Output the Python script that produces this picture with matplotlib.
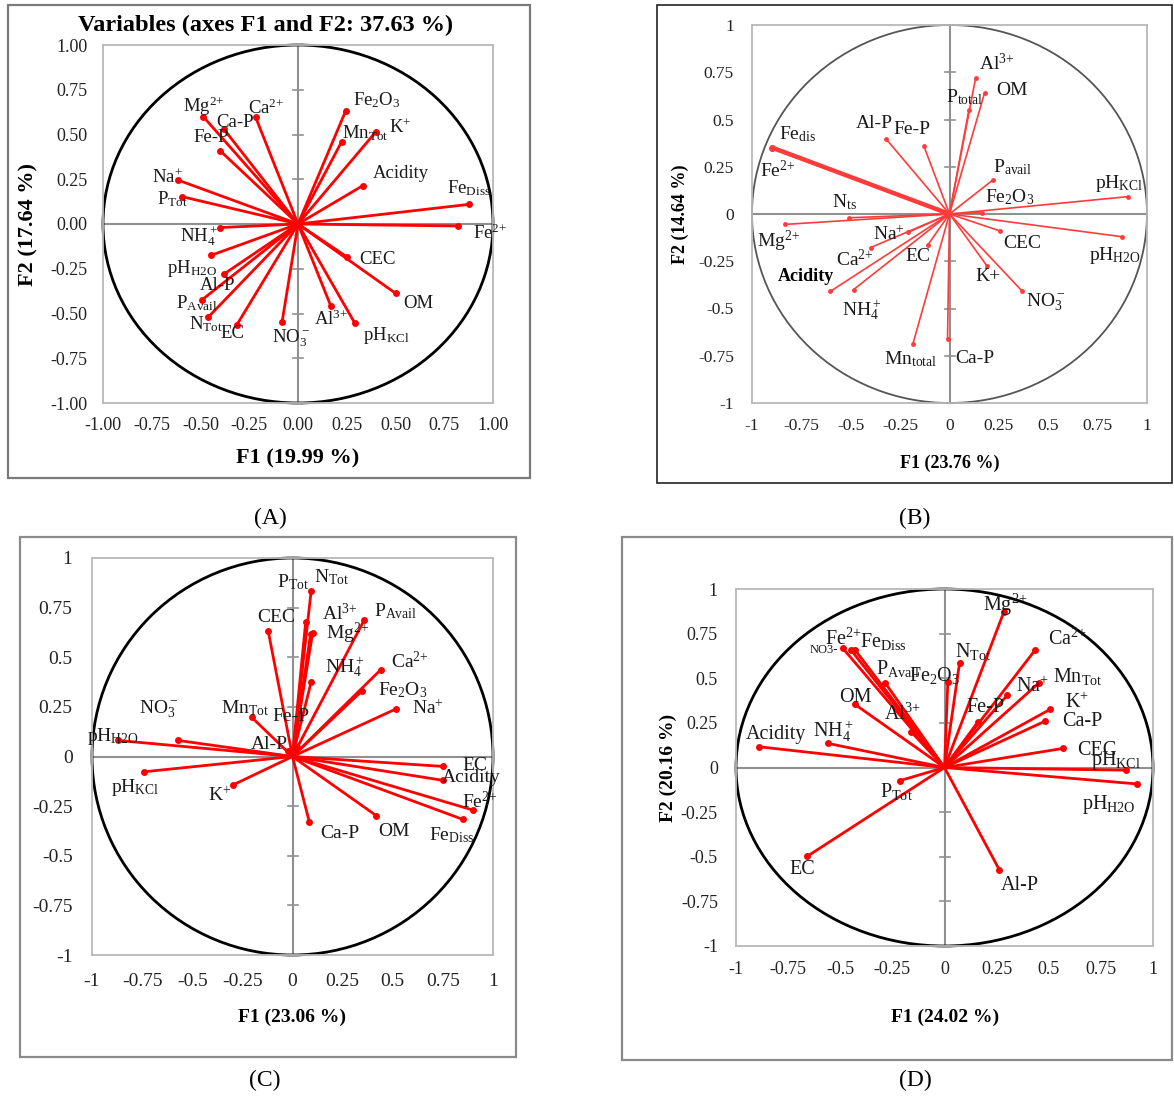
import numpy as np
import matplotlib
matplotlib.use("Agg")
import matplotlib.pyplot as plt
from matplotlib.patches import Circle, Rectangle

plt.rcParams['font.family'] = 'Liberation Serif'
plt.rcParams['mathtext.fontset'] = 'custom'
plt.rcParams['mathtext.rm'] = 'Liberation Serif'
plt.rcParams['mathtext.it'] = 'Liberation Serif:italic'
plt.rcParams['mathtext.bf'] = 'Liberation Serif:bold'
plt.rcParams['mathtext.default'] = 'regular'

W, H = 1174, 1097

# ---------------- data (F1, F2 loadings) ----------------
lab_a = ['Mg$^{2{+}}$', 'Ca-P', 'Ca$^{2{+}}$', 'Fe-P', 'Na$^{+}$', 'P$_{Tot}$', 'NH$_4^+$',
         'pH$_{H2O}$', 'Al-P', 'P$_{Avail}$', 'N$_{Tot}$', 'EC', 'NO$_3^-$', 'Fe$_2$O$_3$',
         'Mn$_{Tot}$', 'K$^{+}$', 'Acidity', 'Fe$_{Diss}$', 'Fe$^{2{+}}$', 'CEC', 'OM',
         'Al$^{3{+}}$', 'pH$_{KCl}$']
f1_a = [-0.486, -0.38, -0.217, -0.40, -0.617, -0.595, -0.40, -0.446, -0.38, -0.494, -0.46,
        -0.314, -0.082, 0.245, 0.224, 0.40, 0.332, 0.879, 0.819, 0.25, 0.50, 0.169, 0.292]
f2_a = [0.60, 0.53, 0.596, 0.41, 0.246, 0.153, -0.02, -0.175, -0.28, -0.425, -0.52,
        -0.564, -0.55, 0.633, 0.46, 0.516, 0.214, 0.11, -0.011, -0.183, -0.387, -0.46, -0.555]

lab_b = ['Fe$_{dis}$', 'Fe$^{2{+}}$', 'Al-P', 'Fe-P', 'N$_{ts}$', 'Mg$^{2{+}}$', 'Na$^{+}$',
         'Ca$^{2{+}}$', 'EC', 'Acidity', 'NH$_4^+$', 'Mn$_{total}$', 'Ca-P', 'Al$^{3{+}}$', 'OM',
         'P$_{total}$', 'P$_{avail}$', 'Fe$_2$O$_3$', 'pH$_{KCl}$', 'pH$_{H2O}$', 'CEC', 'K+',
         'NO$_3^-$']
f1_b = [-0.897, -0.90, -0.321, -0.13, -0.511, -0.834, -0.21, -0.40, -0.11, -0.604, -0.486,
        -0.186, -0.01, 0.132, 0.178, 0.098, 0.22, 0.166, 0.905, 0.872, 0.257, 0.19, 0.367]
f2_b = [0.351, 0.345, 0.397, 0.36, -0.02, -0.055, -0.097, -0.178, -0.164, -0.41, -0.40,
        -0.69, -0.66, 0.718, 0.642, 0.55, 0.18, 0.007, 0.092, -0.12, -0.09, -0.275, -0.407]

lab_c = ['pH$_{H2O}$', 'NO$_3^-$', 'pH$_{KCl}$', 'K$^{+}$', 'Mn$_{Tot}$', 'CEC', 'Al-P',
         'Fe-P', 'P$_{Tot}$', 'N$_{Tot}$', 'Al$^{3{+}}$', 'Mg$^{2{+}}$', 'NH$_4^+$', 'P$_{Avail}$',
         'Ca$^{2{+}}$', 'Fe$_2$O$_3$', 'Na$^{+}$', 'EC', 'Acidity', 'Fe$^{2{+}}$', 'Fe$_{Diss}$',
         'OM', 'Ca-P']
f1_c = [-0.871, -0.571, -0.741, -0.296, -0.204, -0.121, -0.02, 0.02, 0.066, 0.093, 0.10,
        0.09, 0.093, 0.359, 0.441, 0.346, 0.517, 0.751, 0.75, 0.90, 0.85, 0.418, 0.084]
f2_c = [0.081, 0.081, -0.077, -0.143, 0.198, 0.631, 0.03, 0.05, 0.68, 0.833, 0.62,
        0.615, 0.375, 0.69, 0.438, 0.33, 0.24, -0.05, -0.12, -0.27, -0.317, -0.298, -0.33]

lab_d = ['NO3-', 'Fe$^{2{+}}$', 'Fe$_{Diss}$', 'P$_{Avail}$', 'Fe$_2$O$_3$', 'OM', 'Al$^{3{+}}$',
         'Acidity', 'NH$_4^+$', 'P$_{Tot}$', 'EC', 'Mg$^{2{+}}$', 'N$_{Tot}$', 'Ca$^{2{+}}$',
         'Mn$_{Tot}$', 'Na$^{+}$', 'Fe-P', 'K$^{+}$', 'Ca-P', 'CEC', 'pH$_{KCl}$', 'pH$_{H2O}$',
         'Al-P']
f1_d = [-0.487, -0.45, -0.43, -0.285, 0.016, -0.43, -0.16, -0.888, -0.558, -0.212, -0.659,
        0.284, 0.072, 0.434, 0.451, 0.30, 0.16, 0.507, 0.483, 0.569, 0.872, 0.922, 0.263]
f2_d = [0.667, 0.66, 0.66, 0.475, 0.48, 0.354, 0.20, 0.116, 0.135, -0.073, -0.498,
        0.869, 0.584, 0.657, 0.472, 0.404, 0.255, 0.326, 0.26, 0.107, -0.015, -0.092, -0.573]

ticks = [-1, -0.75, -0.5, -0.25, 0, 0.25, 0.5, 0.75, 1]

# label offsets (pixels) from each point
off_a = [(1, 10), (11, 7), (10, 9), (-9, 13), (-10, 2), (-10, -3), (-21, -8), (-19, -13),
         (-6, -11), (-5, -3), (-2, -7), (-4, -9), (9, -16), (31, 11), (24, 9), (24, 4),
         (38, 12), (-1, 16), (32, -7), (31, -3), (23, -10), (0, -13), (31, -12)]
off_b = [(25, 14), (6, -22), (-12, 15), (-12, 16), (-4, 16), (-6, -17), (-19, -2), (-16, -12),
         (-10, -12), (-24, 15), (8, -20), (-2, -15), (27, -20), (21, 15), (27, 2), (-4, 13),
         (20, 13), (27, 16), (-9, 13), (-7, -19), (22, -12), (1, -11), (24, -11)]
off_c = [(-5, 4), (-19, 31), (-9, -16), (-14, -11), (-7, 9), (8, 14), (-19, 6), (-6, 30),
         (-13, 39), (20, 14), (27, 20), (37, 1), (33, 15), (31, 8), (29, 8), (41, 1), (32, 0),
         (32, 1), (28, 3), (7, 9), (-11, -16), (18, -16), (30, -11)]
off_d = [(-19, -2), (-7, 10), (29, 8), (13, 14), (-13, 6), (1, 7), (-9, 18), (17, 12), (5, 12),
         (-4, -11), (-5, -13), (2, 7), (14, 12), (32, 11), (39, 7), (25, 8), (8, 14), (27, 6),
         (37, 0), (34, -2), (-10, 10), (-28, -21), (20, -16)]


def fx(x):
    return x / W


def fy(y):
    return 1 - y / H


fig = plt.figure(figsize=(W / 100, H / 100), dpi=100)


def frame(x0, y0, x1, y1, color, lw):
    fig.add_artist(Rectangle((fx(x0), fy(y1)), fx(x1 - x0), (y1 - y0) / H,
                             transform=fig.transFigure, fill=False, ec=color, lw=lw))


def panel(box, labels, xs, ys, fmt, tfs, pads, ccol, clw, lcol, lw, ms):
    l, r, t, b = box
    ax = fig.add_axes([fx(l), fy(b), fx(r - l), (b - t) / H])
    ax.set_xlim(-1, 1)
    ax.set_ylim(-1, 1)
    for s in ax.spines.values():
        s.set_color('#b8b8b8')
        s.set_linewidth(1.3)
    ax.set_xticks(ticks)
    ax.set_yticks(ticks)
    ax.set_xticklabels([fmt(v) for v in ticks], fontsize=tfs)
    ax.set_yticklabels([fmt(v) for v in ticks], fontsize=tfs)
    ax.tick_params(axis='x', length=0, pad=pads[0], colors='#222222')
    ax.tick_params(axis='y', length=0, pad=pads[1], colors='#222222')
    # cross axes, small ticks on the vertical one
    ax.axhline(0, color='#909090', lw=1.5, zorder=1)
    ax.axvline(0, color='#909090', lw=1.5, zorder=1)
    tx = 5 / (r - l) * 2
    for v in ticks:
        if v != 0:
            ax.plot([-tx, tx], [v, v], color='#909090', lw=1.2, zorder=1)
    ax.add_patch(Circle((0, 0), 1, fill=False, ec=ccol, lw=clw, clip_on=False, zorder=2))
    for i, (x, y) in enumerate(zip(xs, ys)):
        w = lw(i) if callable(lw) else lw
        m = ms + 1.5 if (callable(lw) and w > 2) else ms
        ax.plot([0, x], [0, y], color=lcol, lw=w, solid_capstyle='round', zorder=3)
        ax.plot(x, y, 'o', color=lcol, ms=m, mec='none', zorder=4)
    return ax


def put_labels(ax, labels, xs, ys, offs, fs, special=None):
    special = special or {}
    for i, (name, x, y) in enumerate(zip(labels, xs, ys)):
        kw = dict(fontsize=fs, color='#1a1a1a')
        kw.update(special.get(i, {}))
        ax.annotate(name, (x, y), xytext=offs[i], textcoords='offset pixels',
                    ha='center', va='center', zorder=5, **kw)


fmt2 = lambda v: '%.2f' % v
fmtg = lambda v: '%g' % v

# ---------------- (A) ----------------
frame(8, 5, 530, 478, '#7a7a7a', 1.6)
axa = panel((103, 493, 45, 403), lab_a, f1_a, f2_a, fmt2, 13, (10, 11),
            'black', 2.0, '#ff0000', 2.0, 5)
put_labels(axa, lab_a, f1_a, f2_a, off_a, 13.5)
fig.text(fx(266), fy(25), 'Variables (axes F1 and F2: 37.63 %)', ha='center', va='center',
         fontsize=17.5, fontweight='bold')
fig.text(fx(298), fy(458), 'F1 (19.99 %)', ha='center', va='center', fontsize=16,
         fontweight='bold')
fig.text(fx(28), fy(224), 'F2 (17.64 %)', ha='center', va='center', fontsize=16,
         fontweight='bold', rotation=90)
fig.text(fx(270), fy(518), '(A)', ha='center', va='center', fontsize=17)

# ---------------- (B) ----------------
frame(657, 5, 1172, 483, '#222222', 1.2)
axb = panel((752, 1147, 25, 403), lab_b, f1_b, f2_b, fmtg, 12.5, (11, 13),
            '#555555', 1.3, '#ff3b3b', lambda i: 3.2 if i == 0 else 1.2, 3.5)
put_labels(axb, lab_b, f1_b, f2_b, off_b, 14,
           special={9: dict(fontweight='bold', fontsize=13, color='black')})
fig.text(fx(950), fy(463), 'F1 (23.76 %)', ha='center', va='center', fontsize=13,
         fontweight='bold')
fig.text(fx(680), fy(214), 'F2 (14.64 %)', ha='center', va='center', fontsize=13,
         fontweight='bold', rotation=90)
fig.text(fx(915), fy(518), '(B)', ha='center', va='center', fontsize=17)

# ---------------- (C) ----------------
frame(20, 537, 516, 1057, '#8a8a8a', 1.6)
axc = panel((92, 493, 558, 955), lab_c, f1_c, f2_c, fmtg, 14, (13, 14),
            'black', 2.0, '#ff0000', 2.0, 5)
put_labels(axc, lab_c, f1_c, f2_c, off_c, 14)
fig.text(fx(292), fy(1017), 'F1 (23.06 %)', ha='center', va='center', fontsize=14,
         fontweight='bold')
fig.text(fx(265), fy(1080), '(C)', ha='center', va='center', fontsize=17)

# ---------------- (D) ----------------
frame(622, 537, 1172, 1060, '#8a8a8a', 1.6)
axd = panel((736, 1153, 589, 946), lab_d, f1_d, f2_d, fmtg, 13, (11, 13),
            'black', 2.0, '#ff0000', 2.0, 5)
put_labels(axd, lab_d, f1_d, f2_d, off_d, 14.5, special={0: dict(fontsize=9)})
fig.text(fx(945), fy(1017), 'F1 (24.02 %)', ha='center', va='center', fontsize=14,
         fontweight='bold')
fig.text(fx(668), fy(768), 'F2 (20.16 %)', ha='center', va='center', fontsize=14,
         fontweight='bold', rotation=90)
fig.text(fx(915), fy(1080), '(D)', ha='center', va='center', fontsize=17)

fig.savefig('out.png', dpi=100)
